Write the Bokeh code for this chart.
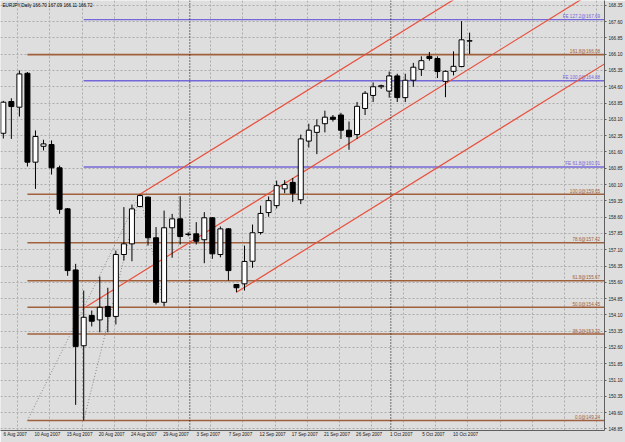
from bokeh.plotting import figure
from bokeh.models import FixedTicker, Range1d, Label, PrintfTickFormatter, Span
from bokeh.embed import file_html
from bokeh.resources import INLINE
from bokeh.core.properties import value

# ---------------- data ----------------
bars = list(range(59))
opens = [162.46, 163.92, 163.66, 165.22, 161.13, 161.86, 161.94, 160.87, 158.98, 156.17,
         152.68, 154.07, 153.87, 154.49, 154.03, 156.88, 157.37, 159.09, 159.52, 157.65,
         154.68, 158.11, 158.52, 157.80, 157.83, 157.56, 158.57, 156.88, 158.06, 155.50,
         155.53, 156.57, 157.89, 158.81, 159.13, 159.90, 160.20, 159.40, 162.10, 162.50,
         162.90, 163.20, 163.30, 162.60, 162.40, 163.60, 164.20, 164.60, 164.40, 165.10,
         164.10, 164.90, 165.40, 166.00, 165.90, 164.85, 165.31, 165.53, 166.70]
highs = [163.95, 164.07, 165.35, 165.28, 162.59, 162.16, 162.13, 160.97, 159.02, 156.45,
         155.22, 154.30, 155.87, 155.35, 157.06, 159.06, 159.18, 159.65, 159.55, 158.14,
         158.90, 158.75, 159.56, 157.90, 158.37, 158.83, 158.60, 158.17, 158.10, 155.52,
         157.29, 158.26, 159.13, 159.55, 160.28, 160.30, 160.40, 162.40, 162.90, 163.10,
         163.50, 163.30, 163.40, 163.00, 163.90, 164.40, 164.80, 164.70, 165.30, 165.20,
         165.20, 165.70, 166.00, 166.20, 166.00, 165.35, 166.23, 167.62, 167.09]
lows = [162.22, 162.20, 163.23, 160.93, 159.90, 161.67, 160.56, 158.75, 155.90, 149.96,
        149.24, 153.57, 153.30, 153.30, 153.66, 156.60, 156.57, 159.05, 157.29, 154.58,
        154.49, 156.73, 157.34, 157.72, 157.34, 156.48, 156.68, 156.75, 155.68, 155.14,
        155.22, 156.27, 157.80, 158.62, 159.00, 159.70, 159.30, 159.20, 161.80, 161.50,
        162.50, 163.00, 162.20, 161.70, 162.20, 163.30, 163.90, 164.50, 164.10, 163.90,
        163.90, 164.60, 165.10, 165.80, 165.00, 164.12, 165.12, 165.50, 166.11]
closes = [163.89, 163.69, 165.19, 161.13, 162.31, 161.97, 160.87, 158.96, 156.14, 152.65,
          153.99, 153.81, 154.45, 154.03, 156.88, 157.37, 158.98, 159.59, 157.65, 154.68,
          158.11, 158.52, 157.71, 157.82, 157.49, 158.57, 156.91, 158.06, 156.14, 155.35,
          156.56, 157.88, 158.77, 159.36, 160.05, 160.10, 159.70, 162.20, 162.60, 162.80,
          163.20, 163.10, 162.60, 162.30, 163.70, 164.30, 164.60, 164.65, 165.10, 164.10,
          164.90, 165.50, 165.80, 165.90, 165.30, 165.31, 165.54, 166.76, 166.72]

date_tick_bars = [0, 4, 8, 12, 16, 20, 24, 28, 32, 36, 40, 44, 48, 52, 56]
date_tick_labels = ["6 Aug 2007", "10 Aug 2007", "15 Aug 2007", "20 Aug 2007", "24 Aug 2007",
                    "29 Aug 2007", "3 Sep 2007", "7 Sep 2007", "12 Sep 2007", "17 Sep 2007",
                    "21 Sep 2007", "26 Sep 2007", "1 Oct 2007", "5 Oct 2007", "10 Oct 2007"]
price_ticks = [148.85, 149.60, 150.35, 151.10, 151.85, 152.60, 153.35, 154.10, 154.85,
               155.60, 156.35, 157.10, 157.85, 158.60, 159.35, 160.10, 160.85, 161.60,
               162.35, 163.10, 163.85, 164.60, 165.35, 166.10, 166.85, 167.60, 168.35]

fib_names = ["0.0", "38.2", "50.0", "61.8", "78.6", "100.0", "161.8"]
fib_prices = [149.24, 153.22, 154.45, 155.67, 157.42, 159.65, 166.08]
fib_start_bar = 3
fe_names = ["FE 61.8", "FE 100.0", "FE 127.2"]
fe_prices = [160.91, 164.88, 167.69]
fe_start_bar = 10

fib_anchor_bars = [3, 17]
fib_anchor_prices = [149.24, 159.65]
fe_anchor_bars = [10, 17, 20]
fe_anchor_prices = [149.24, 159.65, 154.49]

pitch_bars = [10, 17, 29]
pitch_prices = [154.41, 159.65, 155.14]

separator_bars = [23, 48]
grid_bars = [1.8 + 4 * k for k in range(19)]

header = "EURJPY,Daily  166.70 167.09 166.11 166.72"
last_price = 166.72

# ---------------- styling ----------------
BG = "#DEDEDE"
BROWN = "#A0603C"
BLUE = "#7468D8"
RED = "#E8503C"
FONT = "Liberation Sans"

x0, x1 = -0.35, 74.78
y0, y1 = 148.78, 168.57

p = figure(width=625, height=442, output_backend="svg", toolbar_location=None,
           x_range=Range1d(x0, x1), y_range=Range1d(y0, y1), y_axis_location="right",
           min_border_left=0, min_border_top=0, min_border_right=21, min_border_bottom=12,
           background_fill_color=BG, border_fill_color=BG, outline_line_color=None)

# axes
p.yaxis.ticker = FixedTicker(ticks=price_ticks)
p.yaxis.formatter = PrintfTickFormatter(format="%.2f")
p.yaxis.major_label_text_font = FONT
p.yaxis.major_label_text_font_size = "4.6px"
p.yaxis.major_label_text_color = "#202020"
p.yaxis.major_tick_out = 2
p.yaxis.major_tick_in = 0
p.yaxis.minor_tick_out = 0
p.yaxis.minor_tick_in = 0
p.yaxis.major_label_standoff = 2
p.yaxis.axis_line_color = "#606060"
p.yaxis.major_tick_line_color = "#606060"

xt = [b + 1.5 for b in date_tick_bars]
p.xaxis.ticker = FixedTicker(ticks=xt)
p.xaxis.major_label_overrides = {t: lab for t, lab in zip(xt, date_tick_labels)}
p.xaxis.major_label_text_font = FONT
p.xaxis.major_label_text_font_size = "4.6px"
p.xaxis.major_label_text_color = "#202020"
p.xaxis.major_tick_out = 0
p.xaxis.major_tick_in = 0
p.xaxis.minor_tick_out = 0
p.xaxis.minor_tick_in = 0
p.xaxis.major_label_standoff = 1
p.xaxis.axis_line_color = "#606060"

# grids
p.xgrid.ticker = FixedTicker(ticks=grid_bars)
for g in (p.xgrid, p.ygrid):
    g.grid_line_color = "#ACACAC"
    g.grid_line_dash = "2 2"
    g.grid_line_width = 1

# period separators
for sb in separator_bars:
    p.add_layout(Span(location=sb + 0.2, dimension="height", line_color="black",
                      line_dash="1 2", line_width=1))

# fibo retracement levels
p.segment(x0=[fib_start_bar] * len(fib_prices), y0=fib_prices,
          x1=[x1 + 5] * len(fib_prices), y1=fib_prices, line_color=BROWN, line_width=1.6)
p.text(x=[x1 - 0.55] * len(fib_prices), y=fib_prices,
       text=[f"{n}@{v:.2f}" for n, v in zip(fib_names, fib_prices)],
       text_align="right", text_baseline="bottom", text_color=BROWN,
       text_font=value(FONT), text_font_size="4.6px", y_offset=-0.5)

# fibo expansion levels
p.segment(x0=[fe_start_bar] * len(fe_prices), y0=fe_prices,
          x1=[x1 + 5] * len(fe_prices), y1=fe_prices, line_color=BLUE, line_width=1.4)
p.text(x=[x1 - 0.55] * len(fe_prices), y=fe_prices,
       text=[f"{n}@{v:.2f}" for n, v in zip(fe_names, fe_prices)],
       text_align="right", text_baseline="bottom", text_color=BLUE,
       text_font=value(FONT), text_font_size="4.6px", y_offset=-0.5)

# dotted anchor lines
p.line(fib_anchor_bars, fib_anchor_prices, line_color="#888888", line_dash="1 2", line_width=1)
p.line(fe_anchor_bars, fe_anchor_prices, line_color="#888888", line_dash="1 2", line_width=1)

# Andrews pitchfork
ax, bx, cx = pitch_bars
ay, by, cy = pitch_prices
mx, my = (bx + cx) / 2, (by + cy) / 2
slope = (my - ay) / (mx - ax)
far = 120
p.segment(x0=[ax, bx, cx],
          y0=[ay, by, cy],
          x1=[far, far, far],
          y1=[ay + slope * (far - ax), by + slope * (far - bx), cy + slope * (far - cx)],
          line_color=RED, line_width=1.2)

# candles
up = [i for i in bars if closes[i] >= opens[i]]
dn = [i for i in bars if closes[i] < opens[i]]
p.segment(x0=bars, y0=lows, x1=bars, y1=highs, line_color="black", line_width=1)
p.vbar(x=up, width=0.62, bottom=[opens[i] for i in up], top=[closes[i] for i in up],
       fill_color="white", line_color="black", line_width=1)
p.vbar(x=dn, width=0.62, bottom=[closes[i] for i in dn], top=[opens[i] for i in dn],
       fill_color="black", line_color="black", line_width=1)

# header and last-price marker
p.add_layout(Label(x=x0, y=y1, x_offset=2, y_offset=-2, text=header, text_baseline="top",
                   text_font=FONT, text_font_size="4.6px", text_color="black"))
p.add_layout(Label(x=x1, y=last_price, x_offset=1, text=f"{last_price:.2f}",
                   text_baseline="middle", text_align="left", text_font=FONT,
                   text_font_size="4.6px", text_color="white",
                   background_fill_color="black", padding=1))

open("out.html", "w").write(file_html(p, INLINE))
